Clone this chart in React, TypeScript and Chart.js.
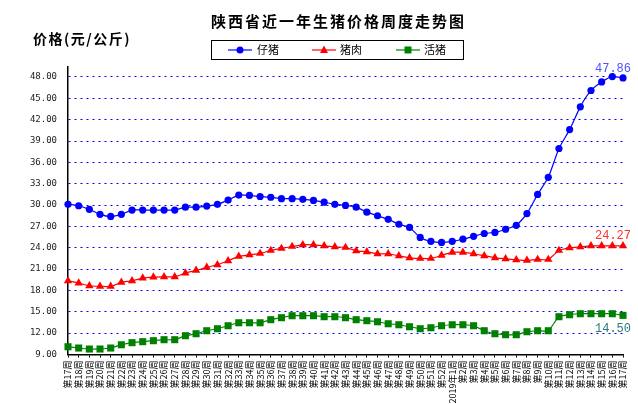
import { useEffect, useRef } from "react"
import { Chart, registerables } from "chart.js"

Chart.register(...registerables)

const titleText = "陕西省近一年生猪价格周度走势图"
const yTitle = "价格(元/公斤)"

const weeks = [
  "第17周", "第18周", "第19周", "第20周", "第21周", "第22周", "第23周", "第24周", "第25周",
  "第26周", "第27周", "第28周", "第29周", "第30周", "第31周", "第32周", "第33周", "第34周",
  "第35周", "第36周", "第37周", "第38周", "第39周", "第40周", "第41周", "第42周", "第43周",
  "第44周", "第45周", "第46周", "第47周", "第48周", "第49周", "第50周", "第51周", "第52周",
  "2019年1周", "第2周", "第3周", "第4周", "第5周", "第6周", "第7周", "第8周", "第9周",
  "第10周", "第11周", "第12周", "第13周", "第14周", "第15周", "第16周", "第17周",
]

// 仔猪
const piglet = [
  30.1, 29.9, 29.4, 28.7, 28.4, 28.7, 29.3, 29.3, 29.3, 29.3, 29.3, 29.7, 29.7, 29.85, 30.1, 30.7,
  31.4, 31.35, 31.2, 31.1, 30.9, 30.9, 30.8, 30.65, 30.4, 30.1, 29.95, 29.7, 29.0, 28.5, 28.0, 27.3,
  26.85, 25.45, 24.9, 24.75, 24.9, 25.2, 25.6, 26.0, 26.15, 26.6, 27.15, 28.8, 31.5, 33.9, 37.95,
  40.6, 43.8, 46.1, 47.3, 48.05, 47.86,
]

// 猪肉
const pork = [
  19.36, 19.04, 18.66, 18.57, 18.57, 19.13, 19.36, 19.74, 19.88, 19.92, 19.92, 20.44, 20.82, 21.24,
  21.61, 22.17, 22.79, 23.01, 23.2, 23.62, 23.9, 24.18, 24.41, 24.41, 24.27, 24.13, 24.04, 23.57,
  23.43, 23.15, 23.15, 22.87, 22.59, 22.5, 22.5, 22.93, 23.35, 23.35, 23.16, 22.87, 22.59, 22.45,
  22.31, 22.22, 22.36, 22.36, 23.62, 23.99, 24.13, 24.27, 24.27, 24.27, 24.27,
]

// 活猪
const hog = [
  10.09, 9.91, 9.77, 9.77, 9.91, 10.37, 10.66, 10.8, 10.94, 11.08, 11.08, 11.64, 11.92, 12.34,
  12.62, 13.04, 13.46, 13.46, 13.46, 13.89, 14.17, 14.45, 14.45, 14.45, 14.31, 14.31, 14.17, 13.89,
  13.75, 13.6, 13.32, 13.18, 12.9, 12.62, 12.76, 13.04, 13.18, 13.18, 13.04, 12.34, 11.92, 11.78,
  11.78, 12.2, 12.34, 12.34, 14.31, 14.59, 14.73, 14.73, 14.73, 14.73, 14.5,
]

const yTicks = [9, 12, 15, 18, 21, 24, 27, 30, 33, 36, 39, 42, 45, 48]

const seriesNames = ["仔猪", "猪肉", "活猪"]
const seriesColors = ["#0000ff", "#ff0000", "#008000"]
const labelColors = ["#5050ff", "#ff3030", "#2a7a7a"]

function drawMarker(ctx: CanvasRenderingContext2D, kind: number, x: number, y: number) {
  ctx.beginPath()
  if (kind === 0) {
    ctx.arc(x, y, 3.5, 0, Math.PI * 2)
  } else if (kind === 1) {
    ctx.moveTo(x, y - 4.5)
    ctx.lineTo(x + 4, y + 3)
    ctx.lineTo(x - 4, y + 3)
    ctx.closePath()
  } else {
    ctx.rect(x - 3.5, y - 3.5, 7, 7)
  }
  ctx.fill()
}

const decorations = {
  id: "decorations",
  afterDraw(chart: Chart) {
    const ctx = chart.ctx
    ctx.save()
    const c = ctx as any

    // title
    ctx.fillStyle = "#000"
    ctx.font = "bold 15px 'Noto Sans CJK SC'"
    ctx.textAlign = "left"
    ctx.textBaseline = "middle"
    c.letterSpacing = "2px"
    ctx.fillText(titleText, 211, 21)

    // y axis title
    ctx.font = "bold 14px 'Noto Sans CJK SC'"
    c.letterSpacing = "1.5px"
    ctx.fillText(yTitle, 33, 39)
    c.letterSpacing = "0px"

    // legend box
    ctx.strokeStyle = "#000"
    ctx.lineWidth = 1
    ctx.strokeRect(211.5, 40.5, 252, 19)
    const lineStarts = [228, 312, 396]
    const textStarts = [257, 340, 424]
    ctx.font = "11px 'Noto Sans CJK SC'"
    for (let i = 0; i < 3; i++) {
      const ly = 50
      ctx.strokeStyle = seriesColors[i]
      ctx.fillStyle = seriesColors[i]
      ctx.lineWidth = 1.2
      ctx.beginPath()
      ctx.moveTo(lineStarts[i], ly)
      ctx.lineTo(lineStarts[i] + 24, ly)
      ctx.stroke()
      drawMarker(ctx, i, lineStarts[i] + 12, ly)
      ctx.fillStyle = "#000"
      ctx.fillText(seriesNames[i], textStarts[i], ly)
    }

    // value labels on last points
    ctx.font = "12px 'Liberation Mono'"
    ctx.textAlign = "center"
    ctx.textBaseline = "alphabetic"
    const offsets = [-5.5, -6.5, 16.5]
    chart.data.datasets.forEach((ds, i) => {
      const meta = chart.getDatasetMeta(i)
      const last = meta.data.length - 1
      const pt = meta.data[last]
      const v = ds.data[last] as number
      ctx.fillStyle = labelColors[i]
      ctx.fillText(v.toFixed(2), pt.x - 10, pt.y + offsets[i])
    })
    ctx.restore()
  },
}

export default function App() {
  const chartRef = useRef<HTMLCanvasElement>(null)
  const chartInstance = useRef<Chart | null>(null)

  useEffect(() => {
    if (!chartRef.current) return
    if (chartInstance.current) chartInstance.current.destroy()
    const ctx = chartRef.current.getContext("2d")
    if (!ctx) return

    const seriesData = [piglet, pork, hog]
    const pointStyles = ["circle", "triangle", "rect"]
    const radii = [3.6, 4.8, 5]

    chartInstance.current = new Chart(ctx, {
      type: "line",
      data: {
        labels: weeks,
        datasets: seriesData.map((d, i) => ({
          label: seriesNames[i],
          data: d,
          borderColor: seriesColors[i],
          backgroundColor: seriesColors[i],
          pointBackgroundColor: seriesColors[i],
          pointBorderColor: seriesColors[i],
          pointBorderWidth: 0,
          pointStyle: pointStyles[i] as any,
          pointRadius: radii[i],
          borderWidth: 1.2,
          tension: 0.2,
          clip: false as any,
        })),
      },
      options: {
        responsive: false,
        animation: false,
        layout: { padding: { top: 67, left: 8, right: 15, bottom: 0 } },
        plugins: {
          legend: { display: false },
          tooltip: { enabled: false },
        },
        scales: {
          x: {
            offset: false,
            grid: { drawOnChartArea: false, color: "#000", tickLength: 3 },
            border: { color: "#000", width: 1.5 },
            ticks: {
              autoSkip: false,
              minRotation: 90,
              maxRotation: 90,
              padding: 3,
              color: "#000",
              font: { size: 9, family: "'Noto Sans CJK SC'" },
            },
            afterFit: (s: any) => {
              s.height = 49.5
            },
          },
          y: {
            min: 9,
            max: 49.4,
            afterBuildTicks: (s: any) => {
              s.ticks = yTicks.map((v) => ({ value: v }))
            },
            grid: {
              drawTicks: false,
              lineWidth: 1,
              color: (c: any) => (c.tick && c.tick.value === yTicks[0] ? "rgba(0,0,0,0)" : "#0000ff"),
            },
            border: { color: "#000", width: 1.5, dash: [2, 4] },
            ticks: {
              padding: 11,
              color: "#222",
              font: { size: 9, family: "'DejaVu Sans Mono'" },
              callback: (v: any) => Number(v).toFixed(2),
            },
            afterFit: (s: any) => {
              s.width = 60
            },
          },
        },
      },
      plugins: [decorations],
    })

    return () => {
      if (chartInstance.current) {
        chartInstance.current.destroy()
        chartInstance.current = null
      }
    }
  }, [])

  return (
    <div style={{ position: "absolute", left: 0, top: 0, width: 638, height: 404, background: "#fff" }}>
      <canvas ref={chartRef} width={638} height={404} />
    </div>
  )
}
